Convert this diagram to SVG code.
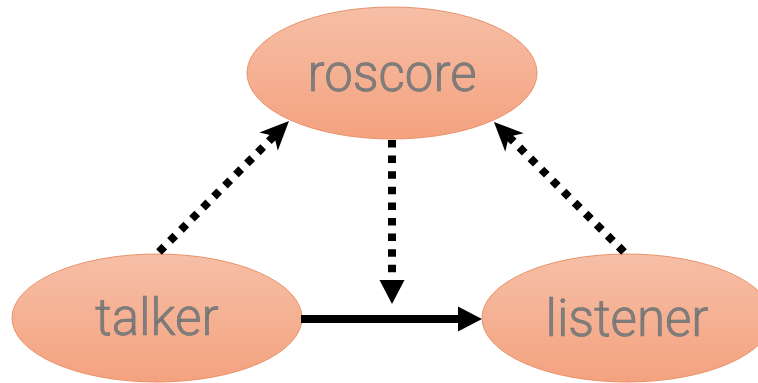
<svg xmlns="http://www.w3.org/2000/svg" width="758" height="383" viewBox="0 0 758 383">
<defs>
<linearGradient id="g" x1="0" y1="0" x2="0" y2="1">
<stop offset="0" stop-color="#f6bfa7"/>
<stop offset="1" stop-color="#f4a27f"/>
</linearGradient>
<marker id="tri" markerUnits="userSpaceOnUse" markerWidth="25" markerHeight="25" refX="0" refY="12.5" orient="auto" overflow="visible">
<path d="M0,0 L24,12.5 L0,25 z" fill="#000"/>
</marker>
<marker id="stealth" markerUnits="userSpaceOnUse" markerWidth="30" markerHeight="28" refX="8" refY="14" orient="auto" overflow="visible">
<path d="M0,1 L29,14 L0,27 L8,14 z" fill="#000"/>
</marker>
<style>
.node ellipse{fill:url(#g);stroke:#e9936a;stroke-width:1}
.node text{font-family:Roboto,"Liberation Sans",sans-serif;font-weight:300;font-size:51px;fill:#7f7f7f;stroke:#6e6e6e;stroke-width:0.6;text-anchor:middle}
.dot{stroke:#000;stroke-width:8;stroke-dasharray:7.5 8.1;fill:none}
.solid{stroke:#000;stroke-width:8;fill:none}
</style>
</defs>
<g id="roscore" class="node">
<ellipse cx="392" cy="73" rx="145" ry="66"/>
<text x="392" y="91">roscore</text>
</g>
<g id="talker" class="node">
<ellipse cx="157" cy="318" rx="145" ry="64"/>
<text x="157" y="335">talker</text>
</g>
<g id="listener" class="node">
<ellipse cx="627" cy="318" rx="145" ry="64"/>
<text x="627" y="336">listener</text>
</g>
<g id="connectors">
<line class="dot" x1="159" y1="252" x2="274.2" y2="135.9" marker-end="url(#stealth)"/>
<line class="dot" x1="624" y1="252" x2="508.8" y2="136.8" marker-end="url(#stealth)"/>
<line class="dot" x1="392" y1="140" x2="392" y2="280" marker-end="url(#tri)"/>
<line class="solid" x1="301" y1="319" x2="458" y2="319" marker-end="url(#tri)"/>
</g>
</svg>
